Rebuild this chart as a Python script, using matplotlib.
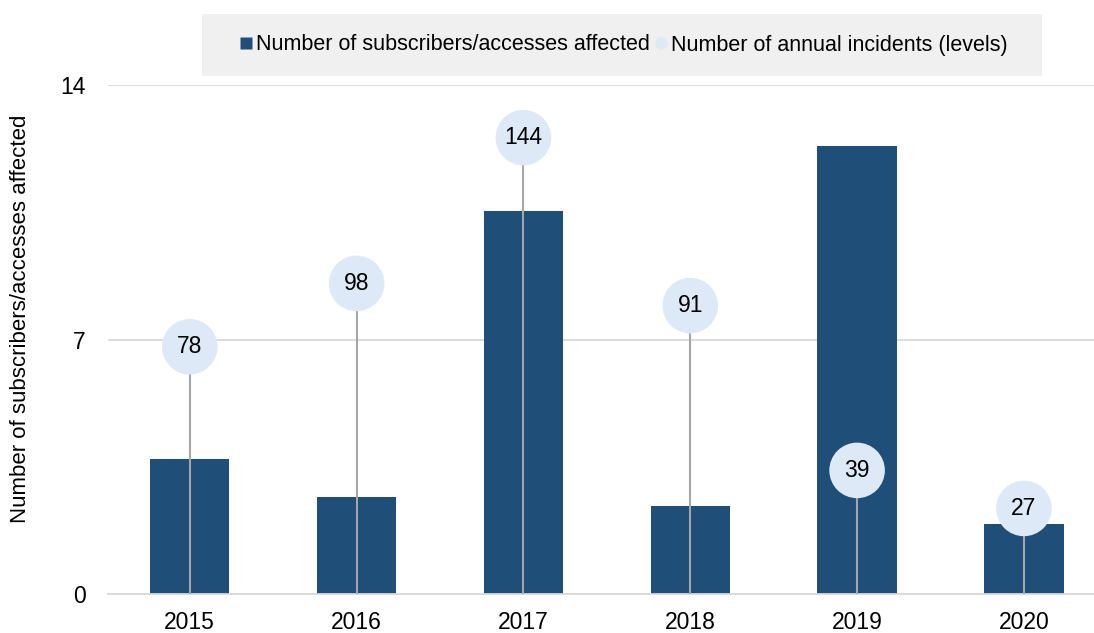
import matplotlib.pyplot as plt
from matplotlib.patches import Rectangle
from matplotlib.lines import Line2D

plt.rcParams['font.family'] = ['Liberation Sans', 'DejaVu Sans']

years = ['2015', '2016', '2017', '2018', '2019', '2020']
subscribers = [3.7, 2.67, 10.53, 2.42, 12.32, 1.93]
incidents = [78, 98, 144, 91, 39, 27]

bar_color = '#1f4e79'
dot_color = '#dde9f6'
stem_color = '#a6a6a6'

fig = plt.figure(figsize=(10.94, 6.33), dpi=100)
ax = fig.add_axes([0.0987, 0.0616, 0.9013, 0.8041])

x = list(range(len(years)))
ax.bar(x, subscribers, width=0.475, color=bar_color, zorder=2)

ax.set_ylim(0, 14)
ax.set_yticks([0, 7, 14])
ax.set_xlim(-0.49, 5.42)
ax.set_xticks(x)
ax.set_xticklabels(years)
ax.tick_params(axis='both', length=0, labelsize=16.5, colors='#000000')
ax.tick_params(axis='x', pad=12)
ax.tick_params(axis='y', pad=16)
ax.yaxis.grid(True, color='#d9d9d9', linewidth=1.3, zorder=0)
ax.set_axisbelow(True)
for s in ['left', 'right', 'top']:
    ax.spines[s].set_visible(False)
ax.spines['bottom'].set_color('#d9d9d9')
ax.spines['bottom'].set_linewidth(1.3)
ax.set_ylabel('Number of subscribers/accesses affected', fontsize=16)
ax.yaxis.set_label_coords(-0.078, 0.54)

# incidents on a hidden secondary scale, drawn as lollipops
ax2 = ax.twinx()
ax2.set_ylim(0, 160.6)
ax2.axis('off')
ax2.vlines(x, 0, incidents, color=stem_color, linewidth=1.5, zorder=3)
ax2.scatter(x, incidents, s=1600, color=dot_color, zorder=4, edgecolors='none')
for xi, v in zip(x, incidents):
    ax2.text(xi, v, str(v), ha='center', va='center', fontsize=16.5, zorder=5)

# legend box
fig.patches.append(Rectangle((202 / 1094, 1 - 76 / 633), 840 / 1094, 62 / 633,
                             transform=fig.transFigure, facecolor='#f0f0f0',
                             edgecolor='none', zorder=0))
handles = [
    Line2D([], [], marker='s', linestyle='none', markersize=9,
           markerfacecolor=bar_color, markeredgecolor='none'),
    Line2D([], [], marker='o', linestyle='none', markersize=9,
           markerfacecolor=dot_color, markeredgecolor='none'),
]
fig.legend(handles, ['Number of subscribers/accesses affected',
                     'Number of annual incidents (levels)'],
           loc='center', bbox_to_anchor=(622 / 1094, 1 - 45 / 633), ncol=2,
           frameon=False, fontsize=15.5, handletextpad=0.0, columnspacing=0.1,
           handlelength=0.9)

fig.savefig('out.png', dpi=100)
